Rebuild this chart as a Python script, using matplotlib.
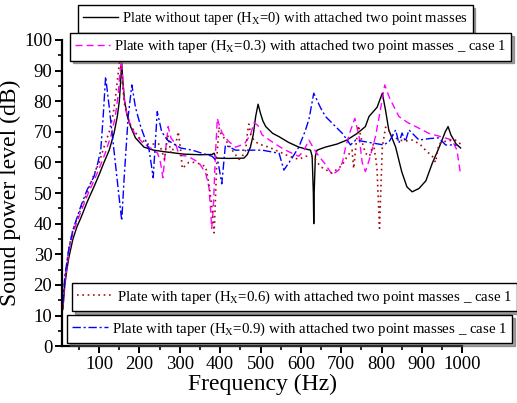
import matplotlib
matplotlib.use("Agg")
import matplotlib.pyplot as plt
from matplotlib.ticker import MultipleLocator

plt.rcParams['font.family'] = ['Liberation Serif', 'DejaVu Serif']
plt.rcParams['mathtext.fontset'] = 'custom'
plt.rcParams['mathtext.rm'] = 'Liberation Serif'
plt.rcParams['mathtext.it'] = 'Liberation Serif:italic'

# ---- data (frequency in Hz, sound power level in dB) ----
f_h0 = [10, 15, 20, 25, 35, 45, 55, 70, 87, 100, 112, 125, 137, 145, 150, 153, 156,
        159, 163, 170, 178, 190, 211, 235, 261, 310, 350, 380, 385, 388, 392, 420,
        459, 467, 475, 482, 488, 494, 500, 506, 513, 530, 546, 570, 595, 615, 624,
        628, 631, 632, 633, 636, 640, 661, 690, 714, 740, 760, 769, 789, 802, 810,
        818, 835, 850, 863, 876, 893, 910, 926, 940, 950, 958, 965, 972, 985, 996]
db_h0 = [12, 20, 25, 29, 35, 39, 42, 47, 52, 56, 60, 64, 69.6, 75, 80, 86, 92.4,
         86, 80, 75, 71.7, 68, 65, 64, 63.5, 62.7, 62.5, 62.6, 63, 62, 61.4, 61.3,
         61.4, 62.5, 65, 69, 75, 79, 76, 73.5, 71.7, 69.5, 68.4, 66.5, 65, 64.3, 64,
         62, 50, 40, 50, 62, 64, 65, 66, 67.3, 69.5, 71.7, 75, 78, 82.6, 77,
         70.6, 65, 57, 52, 50.4, 51.5, 54, 59.8, 64, 67.3, 70, 71.7, 69, 66, 64.7]

f_h3 = [10, 15, 25, 35, 55, 70, 87, 100, 115, 130, 140, 147, 152, 155, 158, 162,
        168, 178, 190, 211, 230, 245, 252, 258, 263, 271, 278, 290, 298, 320, 347,
        364, 372, 376, 379, 383, 388, 393, 398, 405, 420, 438, 460, 475, 484, 494,
        504, 520, 537, 555, 570, 595, 608, 620, 632, 645, 660, 678, 694, 703, 711,
        722, 734, 745, 752, 760, 770, 785, 797, 808, 820, 843, 865, 885, 917, 950,
        975, 987, 996]
db_h3 = [13, 21, 31, 37, 44, 49, 54, 58, 63, 69, 75, 82, 90, 93, 88, 81,
         76, 72, 69, 66, 64.5, 63, 60, 55, 62, 71.7, 68, 66, 62.4, 62, 60,
         56.5, 52, 45, 38.5, 45, 62, 74.4, 72, 69.6, 67, 65, 66, 69, 73, 72,
         69, 67.5, 66, 64.5, 63.5, 62, 64, 67.3, 64.5, 62, 59.5, 56, 57.5, 60, 65,
         70, 74.4, 68, 60, 57, 61, 68.4, 77, 85.3, 81, 75, 73, 71.7, 69.5, 68.3,
         67.3, 64, 56]

f_h6 = [10, 15, 25, 35, 55, 70, 87, 100, 112, 125, 135, 142, 148, 151, 155, 158,
        163, 170, 180, 200, 220, 240, 248, 255, 262, 270, 278, 290, 296, 302, 306,
        322, 335, 350, 364, 372, 380, 385, 388, 392, 397, 401, 420, 435, 447, 455,
        463, 468, 471, 476, 485, 496, 520, 546, 571, 595, 612, 630, 649, 677, 702,
        715, 727, 731, 737, 743, 751, 760, 770, 780, 786, 789, 795, 798, 802, 810,
        814, 830, 843, 860, 876, 895, 909, 926, 934, 942, 960, 983, 996]
db_h6 = [13, 22, 32, 38, 45, 50, 56, 60, 65, 70, 76, 83, 90, 93.5, 90, 85,
         79, 75, 71.5, 68, 66, 66, 66, 64, 61, 69, 63, 66, 70, 64, 58,
         60, 60, 59.5, 58.6, 53, 45, 37, 47, 62, 71.5, 69.6, 66, 63, 61, 62,
         64, 70, 72.5, 69, 67, 66, 65, 63.5, 62, 61, 62, 62, 58.6, 56.5, 59,
         62, 64, 58, 66, 72, 67, 63, 62, 66, 61, 57.5, 38.5, 50, 65, 71.5,
         71, 68.5, 67.3, 67, 67.3, 66, 64, 62, 60, 66, 67, 67.3, 66]

f_h9 = [10, 15, 25, 35, 54, 70, 87, 97, 104, 110, 116, 125, 140, 150, 156, 162,
        172, 181, 190, 203, 224, 234, 244, 255, 269, 302, 331, 355, 380, 395, 404,
        413, 438, 470, 504, 546, 558, 578, 595, 610, 620, 632, 649, 661, 702, 715,
        723, 736, 770, 806, 820, 835, 843, 851, 859, 868, 893, 920, 942, 959, 987]
db_h9 = [14, 23, 32, 38, 45.5, 51, 55.3, 60, 64, 75, 88, 78, 60, 48, 41, 55,
         75, 85.3, 78, 71.7, 64, 55, 76.6, 70, 67.3, 64.7, 64, 63, 62, 60, 53,
         65.7, 64, 64, 64, 63, 57.5, 61.4, 65, 70, 74, 82.6, 77.8, 75, 69.6, 67.3,
         65.7, 67.3, 66.5, 65.7, 67, 70.6, 66.3, 69.6, 66.8, 70.6, 67.3, 67.8, 68, 65.7, 65.7]

labels = [
    r'Plate without taper (H$_\mathregular{X}$=0) with attached two point masses',
    r'Plate with taper (H$_\mathregular{X}$=0.3) with attached two point masses _ case 1',
    r'Plate with taper (H$_\mathregular{X}$=0.6) with attached two point masses _ case 1',
    r'Plate with taper (H$_\mathregular{X}$=0.9) with attached two point masses _ case 1',
]

fig = plt.figure(figsize=(5.17, 4.03), dpi=100)
ax = fig.add_axes([0.120, 0.141, 0.774, 0.760])

l0, = ax.plot(f_h0, db_h0, color='black', lw=1.0, ls='-')
l1, = ax.plot(f_h3, db_h3, color='#FF00FF', lw=1.0, ls=(0, (5, 3)))
l2, = ax.plot(f_h6, db_h6, color='#A01010', lw=1.2, ls=(0, (1, 2.2)))
l3, = ax.plot(f_h9, db_h9, color='#0000FF', lw=1.0, ls=(0, (6, 2, 1.5, 2)))

ax.set_xlim(8, 1000)
ax.set_ylim(0, 100)
ax.xaxis.set_major_locator(MultipleLocator(100))
ax.xaxis.set_minor_locator(MultipleLocator(50))
ax.yaxis.set_major_locator(MultipleLocator(10))
ax.yaxis.set_minor_locator(MultipleLocator(5))
ax.spines['top'].set_visible(False)
ax.spines['right'].set_visible(False)
for s in ('left', 'bottom'):
    ax.spines[s].set_linewidth(1.6)
ax.tick_params(which='major', direction='out', length=5, width=1.4, labelsize=13.5, pad=2)
ax.tick_params(which='minor', direction='out', length=3, width=1.2)
ax.set_xlabel('Frequency (Hz)', fontsize=17, labelpad=1)
ax.set_ylabel('Sound power level (dB)', fontsize=17, labelpad=2)

def add_leg(handle, label, x, y, fs):
    lg = fig.legend([handle], [label], loc='upper left', bbox_to_anchor=(x / 517, 1 - y / 403),
                    bbox_transform=fig.transFigure, frameon=True, fancybox=False, shadow=True,
                    fontsize=fs, handlelength=2.4, handletextpad=0.25, borderpad=0.35,
                    borderaxespad=0)
    lg.get_frame().set_edgecolor('black')
    lg.get_frame().set_linewidth(1.0)
    return lg

add_leg(l0, labels[0], 78, 5, 10.5)
add_leg(l1, labels[1], 70, 33, 10.6)
add_leg(l2, labels[2], 72, 283, 10.7)
add_leg(l3, labels[3], 67, 315, 10.75)

fig.savefig('out.png', dpi=100)
